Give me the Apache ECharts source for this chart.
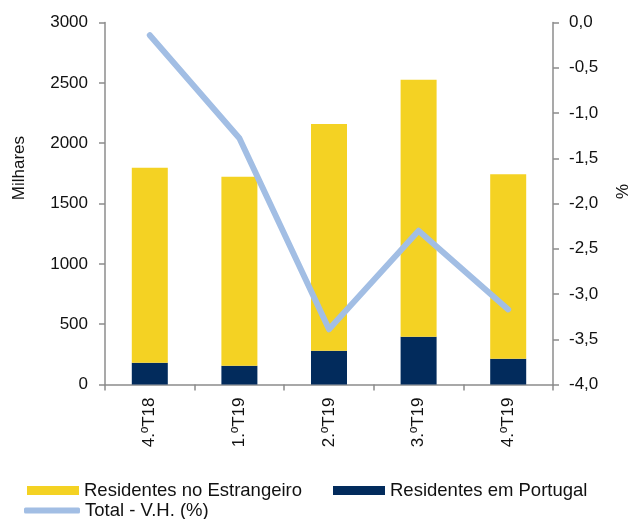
<!DOCTYPE html>
<html>
<head>
<meta charset="utf-8">
<script src="https://cdn.jsdelivr.net/npm/echarts@6/dist/echarts.min.js"></script>
<style>html,body{margin:0;padding:0;background:#fff}#c{width:631px;height:519px}</style>
</head>
<body>
<div id="c"></div>
<script>
var categories = ['4.ºT18', '1.ºT19', '2.ºT19', '3.ºT19', '4.ºT19'];
var residentesPortugal = [181, 156, 280, 396, 214];
var residentesEstrangeiro = [1616, 1566, 1879, 2130, 1528];
var totalVH = [-0.14, -1.28, -3.39, -2.30, -3.17];
var leftTicks = { min: 0, max: 3000, interval: 500 };
var rightTicks = { min: -4, max: 0, interval: 0.5 };

var FONT = '"Liberation Sans", Arial, sans-serif';
var TXT = '#111111';
var AX = '#8c8c8c';
var chart = echarts.init(document.getElementById('c'), null, { renderer: 'canvas' });
var legendCommon = {
  orient: 'horizontal', itemWidth: 52, itemHeight: 9, itemGap: 5, icon: 'rect',
  textStyle: { fontFamily: FONT, fontSize: 18.5, color: TXT },
  padding: 0, selectedMode: false
};
chart.setOption({
  animation: false,
  grid: { left: 105, right: 78, top: 22.5, bottom: 134.5, containLabel: false },
  graphic: [
    { type: 'text', left: 11, top: 136, rotation: Math.PI / 2,
      style: { text: 'Milhares', font: '17px ' + FONT, fill: TXT } },
    { type: 'text', left: 612, top: 184, rotation: -Math.PI / 2,
      style: { text: '%', font: '17px ' + FONT, fill: TXT } }
  ],
  legend: [
    Object.assign({}, legendCommon, { data: ['Residentes no Estrangeiro'], left: 27, top: 481 }),
    Object.assign({}, legendCommon, { data: ['Residentes em Portugal'], left: 333, top: 481 }),
    Object.assign({}, legendCommon, { data: ['Total - V.H. (%)'], left: 24, top: 501,
      icon: 'roundRect', itemWidth: 56, itemHeight: 6,
      itemStyle: { color: '#a2bee4', borderWidth: 0 } })
  ],
  xAxis: {
    type: 'category', data: categories, boundaryGap: true,
    axisLine: { lineStyle: { color: AX, width: 1.5 } },
    axisTick: { show: true, length: 6, lineStyle: { color: AX, width: 1.5 } },
    axisLabel: { rotate: 90, margin: 13, fontFamily: FONT, fontSize: 17, color: TXT }
  },
  yAxis: [
    { type: 'value', min: leftTicks.min, max: leftTicks.max, interval: leftTicks.interval,
      splitLine: { show: false },
      axisLine: { show: true, lineStyle: { color: AX, width: 1.5 } },
      axisTick: { show: true, length: 6, lineStyle: { color: AX, width: 1.5 } },
      axisLabel: { margin: 17, fontFamily: FONT, fontSize: 17, color: TXT,
        formatter: function (v) { return String(v); } } },
    { type: 'value', min: rightTicks.min, max: rightTicks.max, interval: rightTicks.interval,
      position: 'right', splitLine: { show: false },
      axisLine: { show: true, lineStyle: { color: AX, width: 1.5 } },
      axisTick: { show: true, length: 6, lineStyle: { color: AX, width: 1.5 } },
      axisLabel: { margin: 16, fontFamily: FONT, fontSize: 17, color: TXT,
        formatter: function (v) { return v.toFixed(1).replace('.', ','); } } }
  ],
  series: [
    { name: 'Residentes em Portugal', type: 'bar', stack: 't', data: residentesPortugal,
      barWidth: 36, itemStyle: { color: '#022b5c' } },
    { name: 'Residentes no Estrangeiro', type: 'bar', stack: 't', data: residentesEstrangeiro,
      barWidth: 36, itemStyle: { color: '#f4d223' } },
    { name: 'Total - V.H. (%)', type: 'line', yAxisIndex: 1, data: totalVH,
      symbol: 'none', itemStyle: { color: '#a2bee4' },
      lineStyle: { color: '#a2bee4', width: 6, cap: 'round', join: 'round' } }
  ]
});
</script>
</body>
</html>
